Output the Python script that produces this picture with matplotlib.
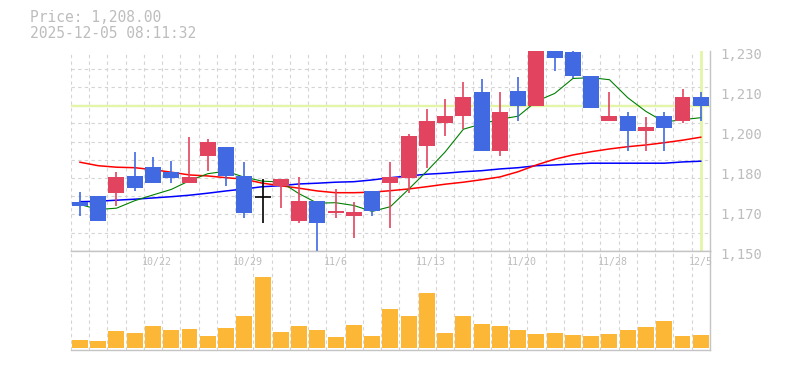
import matplotlib
matplotlib.use('Agg')
import matplotlib.pyplot as plt
from matplotlib.transforms import ScaledTranslation, blended_transform_factory
import numpy as np

# ---------------- data ----------------
dates = ['10/16', '10/17', '10/20', '10/21', '10/22', '10/23', '10/24',
         '10/27', '10/28', '10/29', '10/30', '10/31', '11/4', '11/5',
         '11/6', '11/7', '11/10', '11/11', '11/12', '11/13', '11/14',
         '11/17', '11/18', '11/19', '11/20', '11/21', '11/25', '11/26',
         '11/27', '11/28', '12/1', '12/2', '12/3', '12/4', '12/5']
opens = [1169.5, 1172, 1173, 1180, 1183.5, 1181.5, 1177, 1188, 1191.5, 1180,
         1171.5, 1176, 1162, 1170, 1165, 1164, 1174, 1177, 1179, 1192,
         1201, 1204, 1213.5, 1190, 1214, 1208, 1236, 1229.5, 1220, 1202,
         1204, 1198, 1204, 1202, 1211.5]
highs = [1173.5, 1172, 1181.5, 1189.5, 1187.5, 1186, 1195.5, 1194.5, 1191.5, 1185.5,
         1178.5, 1178.5, 1179.5, 1170, 1174.5, 1169.5, 1174, 1185.5, 1196.5, 1206.5,
         1210.5, 1217.5, 1218.5, 1213.5, 1219.5, 1238, 1240, 1231, 1220, 1213.5,
         1205.5, 1203.5, 1205.5, 1214.5, 1213.5]
lows = [1164, 1162, 1168, 1174, 1177, 1177, 1177, 1182, 1176, 1163,
        1161, 1167, 1161, 1149, 1163, 1155, 1164, 1159, 1173, 1183,
        1196, 1198.5, 1190, 1188, 1202, 1208, 1222, 1219, 1207, 1202,
        1190, 1190, 1190, 1201, 1202]
closes = [1168, 1162, 1179.5, 1175, 1177, 1179, 1179.5, 1193.5, 1180, 1165,
          1171.5, 1178.5, 1170, 1161, 1166, 1165.5, 1166, 1179.5, 1196, 1202,
          1204, 1211.5, 1190, 1205.5, 1208, 1234, 1227, 1220, 1207, 1204,
          1198, 1199.5, 1199, 1211.5, 1208]
volume = [8000, 7000, 17000, 15000, 22000, 18000, 19000, 12000, 20000, 32000,
          71000, 16000, 22000, 18000, 11000, 23000, 12000, 39000, 32000, 55000,
          15000, 32000, 24000, 22000, 18000, 14000, 15000, 13000, 12000, 14000,
          18000, 21000, 27000, 12000, 13000]
ma_short = [1168.5, 1166.5, 1167.0, 1170.0, 1172.3, 1174.5, 1178.0, 1180.8, 1181.8, 1179.4,
            1177.8, 1177.5, 1172.8, 1169.0, 1169.2, 1168.1, 1165.7, 1167.6, 1174.6, 1181.8,
            1189.5, 1198.6, 1200.7, 1202.6, 1203.8, 1209.8, 1212.9, 1218.9, 1219.2, 1218.4,
            1211.2, 1205.7, 1201.5, 1202.4, 1203.2]
ma_mid = [1185.4, 1184.0, 1183.4, 1183.2, 1182.4, 1181.4, 1180.3, 1179.9, 1179.2, 1178.6,
          1177.0, 1176.0, 1175.0, 1173.9, 1173.2, 1173.2, 1173.4, 1174.0, 1174.7, 1175.6,
          1176.6, 1177.4, 1178.4, 1179.5, 1181.6, 1184.3, 1186.6, 1188.3, 1189.6, 1190.7,
          1191.6, 1192.3, 1193.2, 1194.2, 1195.4]
ma_long = [1169.6, 1169.8, 1170.2, 1170.6, 1171.1, 1171.6, 1172.2, 1173.0, 1173.9, 1174.7,
           1175.6, 1176.0, 1176.7, 1177.0, 1177.4, 1177.6, 1178.3, 1179.2, 1179.9, 1180.6,
           1181.0, 1181.6, 1182.0, 1182.7, 1183.2, 1184.0, 1184.3, 1184.7, 1185.0, 1185.0,
           1185.0, 1185.0, 1185.0, 1185.5, 1185.8]
last_price = 1208.0
price_text = 'Price: 1,208.00'
timestamp = '2025-12-05 08:11:32'
ytick_values = [1150, 1166, 1182, 1198, 1214, 1230]
ytick_labels = ['1,150', '1,170', '1,180', '1,200', '1,210', '1,230']
xlabel_dates = ['10/22', '10/29', '11/6', '11/13', '11/20', '11/28', '12/5']

# ---------------- style ----------------
UP = '#e2445f'
DOWN = '#4169e1'
VOLC = '#fcb736'
GRID = '#d4d4d4'
SPINE = '#c4c4c4'
TXT = '#bdbdbd'
HL = '#e3f5a6'
FONT = 'DejaVu Sans Mono'

W, H = 785, 370
fig = plt.figure(figsize=(W / 100, H / 100), dpi=100)
fig.patch.set_facecolor('white')


def rect(l, t, r, b):
    return [l / W, 1 - b / H, (r - l) / W, (b - t) / H]


ax = fig.add_axes(rect(70.8, 50.7, 709.9, 250.7))
axv = fig.add_axes(rect(70.8, 250.7, 709.9, 350))

n = len(dates)
x = np.arange(n)
bw = 0.875

for a in (ax, axv):
    a.set_xlim(-0.5, n - 0.5)
    a.set_xticks(np.arange(n + 1) - 0.5)
    a.tick_params(axis='x', length=0, labelbottom=False)
    a.xaxis.grid(True, color=GRID, linestyle=(0, (3, 3)), linewidth=0.8)
    a.set_axisbelow(True)
    for s in ('left', 'top'):
        a.spines[s].set_visible(False)
    for s in ('right', 'bottom'):
        a.spines[s].set_color(SPINE)
        a.spines[s].set_linewidth(1.0)

# price panel
ax.set_ylim(1150, 1230)
ax.set_yticks(np.linspace(1150, 1230, 12), minor=True)
ax.yaxis.grid(True, which='minor', color=GRID, linestyle=(0, (3, 3)), linewidth=0.8)
ax.yaxis.tick_right()
ax.set_yticks(ytick_values)
ax.set_yticklabels(ytick_labels)
ax.tick_params(axis='y', which='both', length=0, pad=7.7, labelsize=10,
               labelcolor=TXT)
off = ScaledTranslation(0, -2.6 / 100, fig.dpi_scale_trans)
for lab in ax.get_yticklabels():
    lab.set_fontfamily(FONT)
    lab.set_transform(lab.get_transform() + off)

ax.axhline(last_price, color=HL, linewidth=1.7, zorder=1.5)
ax.axvline(x[-1], color=HL, linewidth=2.0, zorder=1.5)

ax.plot(x, ma_long, color='#0000ff', linewidth=1.1, zorder=2)
ax.plot(x, ma_mid, color='#ff0000', linewidth=1.1, zorder=2)
ax.plot(x, ma_short, color='#008000', linewidth=0.8, zorder=2)

for i in range(n):
    o, h, l, c = opens[i], highs[i], lows[i], closes[i]
    if c > o:
        col = UP
    elif c < o:
        col = DOWN
    else:
        col = 'black'
    ax.vlines(x[i], l, h, color=col, linewidth=1.2, zorder=3)
    if c == o:
        ax.hlines(c, x[i] - bw / 2, x[i] + bw / 2, color=col, linewidth=1.2, zorder=3)
    else:
        ax.bar(x[i], abs(c - o), bottom=min(o, c), width=bw, color=col,
               linewidth=0, zorder=4)

# volume panel
axv.bar(x, volume, width=bw, color=VOLC, linewidth=0, zorder=3)
axv.set_ylim(-2300, 97000)
axv.set_yticks([])
axv.spines['top'].set_visible(True)
axv.spines['top'].set_color(SPINE)
axv.spines['top'].set_linewidth(1.0)

tr = blended_transform_factory(axv.transData, axv.transAxes) + \
    ScaledTranslation(-11.5 / 100, 0, fig.dpi_scale_trans)
for d in xlabel_dates:
    i = dates.index(d)
    axv.text(x[i], (350 - 261.7) / 99.3, d, transform=tr, ha='left', va='center',
             fontsize=7.2, color=TXT, family=FONT)

# header
fig.text(30 / W, 1 - 18 / H, price_text, ha='left', va='center', fontsize=10.5,
         color=TXT, family=FONT)
fig.text(30 / W, 1 - 33 / H, timestamp, ha='left', va='center', fontsize=10.5,
         color=TXT, family=FONT)

fig.savefig('out.png', dpi=100, facecolor='white')
